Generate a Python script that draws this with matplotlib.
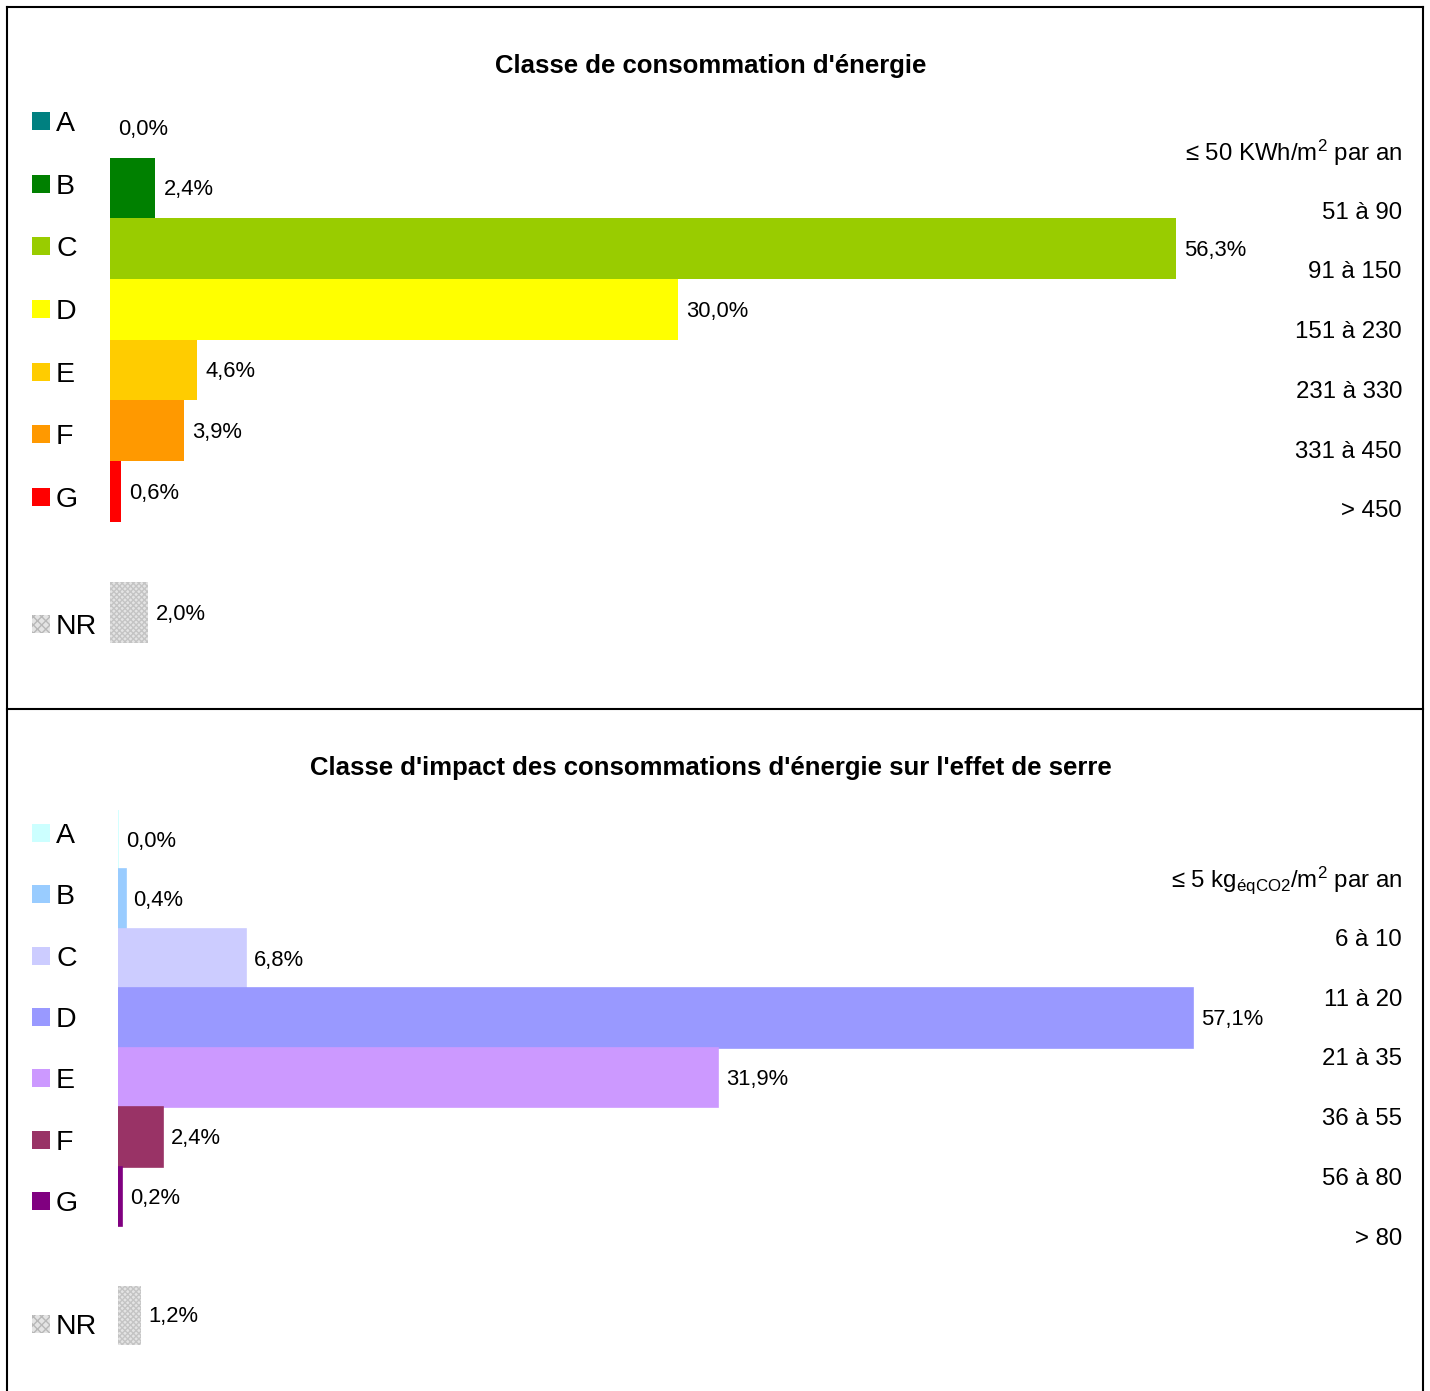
import numpy as np
import matplotlib
matplotlib.use("Agg")
import matplotlib.pyplot as plt
from matplotlib.patches import Rectangle
from matplotlib.lines import Line2D
import matplotlib.transforms as mtransforms

plt.rcParams['font.family'] = ['Liberation Sans', 'DejaVu Sans']
plt.rcParams['mathtext.fontset'] = 'custom'
plt.rcParams['mathtext.rm'] = 'Liberation Sans'
plt.rcParams['mathtext.it'] = 'Liberation Sans'
plt.rcParams['hatch.linewidth'] = 1.0

# donnees
classes = ['A', 'B', 'C', 'D', 'E', 'F', 'G', '', 'NR']

energie_vals = [0.0, 2.4, 56.3, 30.0, 4.6, 3.9, 0.6, None, 2.0]
energie_cols = ['#008080', '#008000', '#99CC00', '#FFFF00', '#FFCC00', '#FF9900', '#FF0000', None, 'NR']
energie_seuils = [r'≤ 50 KWh/m$^{2}$ par an', '51 à 90', '91 à 150', '151 à 230',
                  '231 à 330', '331 à 450', '> 450']

ges_vals = [0.0, 0.4, 6.8, 57.1, 31.9, 2.4, 0.2, None, 1.2]
ges_cols = ['#CCFFFF', '#99CCFF', '#CCCCFF', '#9999FF', '#CC99FF', '#993366', '#800080', None, 'NR']
ges_seuils = [r'≤ 5 kg$_{\mathrm{éqCO2}}$/m$^{2}$ par an', '6 à 10', '11 à 20', '21 à 35',
              '36 à 55', '56 à 80', '> 80']

W, H = 1430, 1391
fig = plt.figure(figsize=(W / 100, H / 100), dpi=100)


def fx(px):
    return px / W


def fy(py):
    return 1 - py / H


def panel(title, title_y, vals, cols, seuils, left, top, bottom, scale, seuil_off, seuil_dy,
          leg_y0, leg_dy, leg_nr, edge):
    ax = fig.add_axes([fx(left), fy(bottom), fx(1410) - fx(left), fy(top) - fy(bottom)])
    xmax = (1410 - left) / scale
    ax.set_xlim(0, xmax)
    ax.set_ylim(8.5, -0.5)
    ax.axis('off')
    for i, (v, c) in enumerate(zip(vals, cols)):
        if v is None:
            continue
        if c == 'NR':
            ax.barh(i, v, height=1.0, facecolor='#e4e4e4', edgecolor='#c4c4c4',
                    hatch='xxxxxx', linewidth=0)
        else:
            ax.barh(i, v, height=1.0, color=c, edgecolor=c if edge else 'none',
                    linewidth=1.2 if edge else 0)
        ax.annotate(('%.1f%%' % v).replace('.', ','), (v, i), xytext=(5.8, -1.2),
                    textcoords='offset points', ha='left', va='center', fontsize=15.8)
    trans = mtransforms.blended_transform_factory(fig.transFigure, ax.transData)
    for i, s in enumerate(seuils):
        ax.text(fx(1402), seuil_off + i * seuil_dy, s, transform=trans, ha='right', va='center',
                fontsize=17.3)
    fig.text(fx(711), fy(title_y), title, ha='center', va='center', fontsize=18.5,
             fontweight='bold')
    # legende a gauche
    for i, (lab, c) in enumerate(zip(classes, cols)):
        if c is None:
            continue
        y = leg_nr if c == 'NR' else leg_y0 + i * leg_dy
        if c == 'NR':
            r = Rectangle((fx(32), fy(y + 9)), fx(18), 18 / H, transform=fig.transFigure,
                          facecolor='#e4e4e4', edgecolor='#b8b8b8', hatch='xxxx', linewidth=0)
        else:
            r = Rectangle((fx(32), fy(y + 9)), fx(18), 18 / H, transform=fig.transFigure,
                          facecolor=c, edgecolor='none')
        fig.patches.append(r)
        fig.text(fx(56), fy(y), lab, ha='left', va='center_baseline', fontsize=20.5)
    return ax


panel("Classe de consommation d'énergie", 66, energie_vals, energie_cols, energie_seuils,
      110, 97, 643, 18.93, 0.42, 0.985, 121, 62.67, 624, False)
panel("Classe d'impact des consommations d'énergie sur l'effet de serre", 768, ges_vals,
      ges_cols, ges_seuils, 118, 810, 1345, 18.82, 0.68, 1.005, 833, 61.3, 1324, True)

# cadres
for (x0, y0, x1, y1) in [(7, 7, 1423, 7), (7, 7, 7, 1391), (1423, 7, 1423, 1391),
                         (7, 709, 1423, 709)]:
    fig.lines.append(Line2D([fx(x0), fx(x1)], [fy(y0), fy(y1)], transform=fig.transFigure,
                            color='black', linewidth=1.5))

fig.savefig('out.png', dpi=100)
